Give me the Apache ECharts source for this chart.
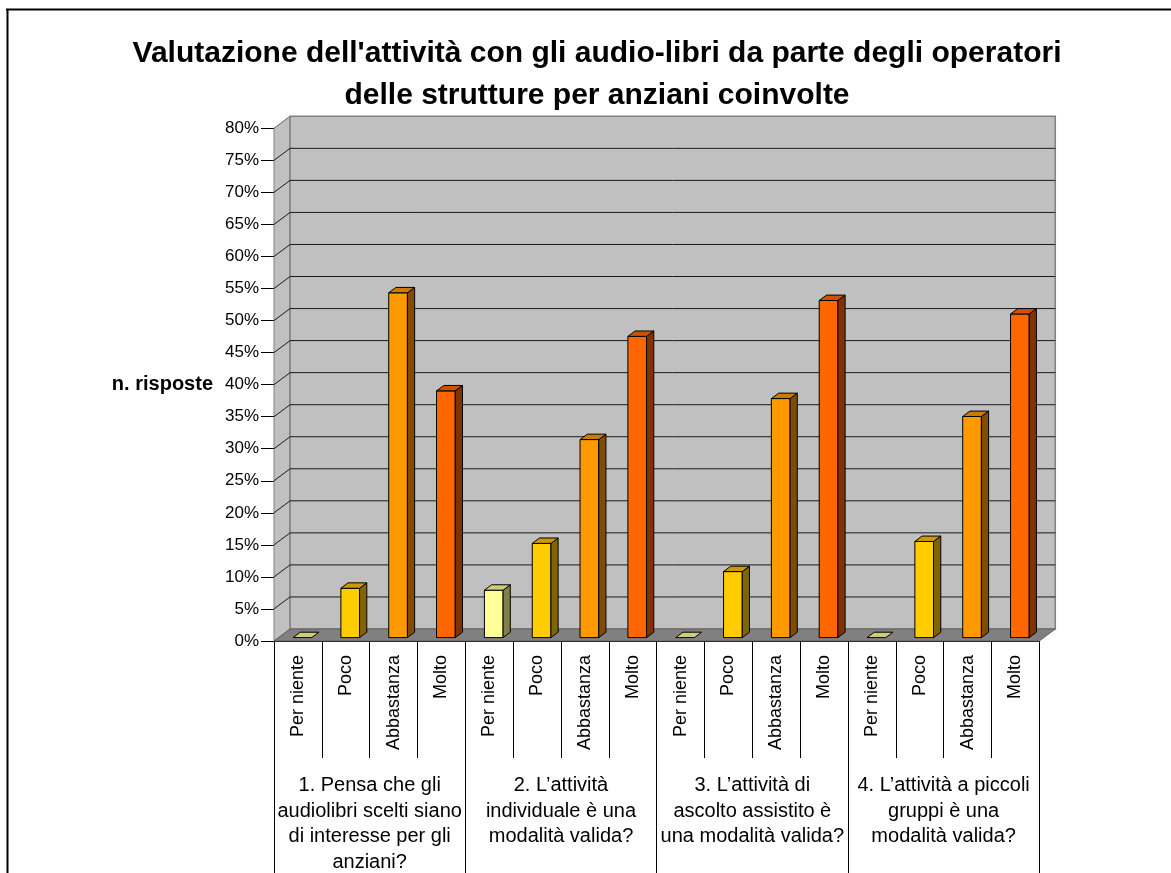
<!DOCTYPE html>
<html>
<head>
<meta charset="utf-8">
<script src="https://cdn.jsdelivr.net/npm/echarts@6/dist/echarts.min.js"></script>
<style>
html,body{margin:0;padding:0;background:#fff;}
#chart{width:1171px;height:873px;}
</style>
</head>
<body>
<div id="chart"></div>
<script>
// ---- data ----
const titleLines = ["Valutazione dell'attività con gli audio-libri da parte degli operatori", "delle strutture per anziani coinvolte"];
const yAxisName = "n. risposte";
const subcats = ["Per niente", "Poco", "Abbastanza", "Molto"];
const groups = [
  "1. Pensa che gli\naudiolibri scelti siano\ndi interesse per gli\nanziani?",
  "2. L\u2019attività\nindividuale è una\nmodalità valida?",
  "3. L\u2019attività di\nascolto assistito è\nuna modalità valida?",
  "4. L\u2019attività a piccoli\ngruppi è una\nmodalità valida?"
];
const perNiente  = [0, 7.4, 0, 0];
const poco       = [7.7, 14.7, 10.3, 15.0];
const abbastanza = [53.8, 30.9, 37.3, 34.5];
const molto      = [38.5, 47.0, 52.6, 50.5];
const yTicks = [0,5,10,15,20,25,30,35,40,45,50,55,60,65,70,75,80];

// ---- build ----
const seriesBySub = [perNiente, poco, abbastanza, molto];
const xCats = [];
groups.forEach(() => subcats.forEach(s => xCats.push(s)));
const barData = [];
groups.forEach((g, gi) => {
  subcats.forEach((s, si) => {
    barData.push([gi * subcats.length + si, seriesBySub[si][gi], si]);
  });
});

const FONT = "'Liberation Sans', Arial, sans-serif";
const DX = 16, DY = -12;          // depth of the 3D box
const FX = 4.5, FY = -3.4;        // front face offset of bars
const SX = 7.2, SY = -5.4;        // bar depth
const BW = 18.7;                  // bar width
const faceColors = ['#FFFF99', '#FFCC00', '#FF9900', '#FF6600'];
const topColors  = ['#CCCC7A', '#CC9900', '#CC7A00', '#CC5200'];
const sideColors = ['#80804C', '#806600', '#804C00', '#803300'];

function renderWalls(params, api) {
  const cs = params.coordSys;
  const x0 = cs.x, x1 = cs.x + cs.width, yT = cs.y, yB = cs.y + cs.height;
  const ch = [];
  ch.push({type:'polygon', shape:{points:[[x0,yB],[x0,yT],[x0+DX,yT+DY],[x0+DX,yB+DY]]},
           style:{fill:'#C0C0C0', stroke:'#808080', lineWidth:1}});
  ch.push({type:'rect', shape:{x:x0+DX, y:yT+DY, width:cs.width, height:cs.height},
           style:{fill:'#C0C0C0', stroke:'#808080', lineWidth:1.5}});
  ch.push({type:'polygon', shape:{points:[[x0,yB],[x0+DX,yB+DY],[x1+DX,yB+DY],[x1,yB]]},
           style:{fill:'#808080', stroke:'#606060', lineWidth:1}});
  yTicks.forEach(v => {
    const y = api.coord([0, v])[1];
    if (v > 0 && v < yTicks[yTicks.length-1]) {
      ch.push({type:'line', shape:{x1:x0+DX, y1:y+DY, x2:x1+DX, y2:y+DY}, style:{stroke:'#1a1a1a', lineWidth:1}});
    }
    if (v > 0) {
      ch.push({type:'line', shape:{x1:x0, y1:y, x2:x0+DX, y2:y+DY},
               style:{stroke: v === yTicks[yTicks.length-1] ? '#808080' : '#1a1a1a', lineWidth:1}});
    }
  });
  return {type:'group', children:ch};
}

function renderBar(params, api) {
  const idx = api.value(0), v = api.value(1), si = api.value(2);
  const p0 = api.coord([idx, 0]);
  const p1 = api.coord([idx, v]);
  const x0 = p0[0] + FX - BW / 2, x1 = x0 + BW;
  const yb = p0[1] + FY, yt = p1[1] + FY;
  const st = {stroke:'#000', lineWidth:1, lineJoin:'round'};
  const ch = [];
  if (v > 0) {
    ch.push({type:'polygon', shape:{points:[[x0,yt],[x1,yt],[x1,yb],[x0,yb]]},
             style:Object.assign({fill:faceColors[si]}, st)});
    ch.push({type:'polygon', shape:{points:[[x1,yb],[x1+SX,yb+SY],[x1+SX,yt+SY],[x1,yt]]},
             style:Object.assign({fill:sideColors[si]}, st)});
  }
  ch.push({type:'polygon', shape:{points:[[x0,yt],[x1,yt],[x1+SX,yt+SY],[x0+SX,yt+SY]]},
           style:Object.assign({fill:topColors[si]}, st)});
  return {type:'group', children:ch};
}

const chart = echarts.init(document.getElementById('chart'), null, {renderer:'canvas'});
chart.setOption({
  animation: false,
  backgroundColor: '#fff',
  title: {
    text: titleLines.join('\n'),
    left: 597, top: 33, textAlign: 'center', padding: 0,
    textStyle: {fontFamily: FONT, fontSize: 30, fontWeight: 'bold', lineHeight: 42, color: '#000'}
  },
  grid: {left: 274, right: 131.7, top: 128.3, bottom: 232, containLabel: false, outerBoundsMode: 'none'},
  xAxis: [
    {
      type: 'category', data: xCats, position: 'bottom', boundaryGap: true,
      axisLine: {show: true, onZero: false, lineStyle: {color: '#000', width: 1}},
      axisTick: {show: true, interval: 0, length: 117, lineStyle: {color: '#000', width: 1}},
      axisLabel: {interval: 0, rotate: 90, margin: 14, fontSize: 18, fontFamily: FONT, color: '#000', hideOverlap: false},
      splitLine: {show: false}
    },
    {
      type: 'category', data: groups, position: 'bottom', offset: 0, boundaryGap: true,
      axisLine: {show: false},
      axisTick: {show: true, interval: 0, length: 240, lineStyle: {color: '#000', width: 1}},
      axisLabel: {interval: 0, margin: 132, fontSize: 20, lineHeight: 25.5, fontFamily: FONT, color: '#000',
                  align: 'center', verticalAlign: 'top', hideOverlap: false},
      splitLine: {show: false}
    }
  ],
  yAxis: {
    type: 'value', min: yTicks[0], max: yTicks[yTicks.length-1], interval: 5,
    name: yAxisName, nameLocation: 'middle', nameRotate: 0, nameGap: 61,
    nameTextStyle: {fontFamily: FONT, fontSize: 20, fontWeight: 'bold', color: '#000', align: 'right', verticalAlign: 'middle',
                    padding: [4, 0, 0, 0]},
    axisLine: {show: true, lineStyle: {color: '#000', width: 1}},
    axisTick: {show: true, length: 13, lineStyle: {color: '#000', width: 1}},
    axisLabel: {margin: 15, fontSize: 17, fontFamily: FONT, color: '#000', formatter: v => v + '%'},
    splitLine: {show: false}
  },
  graphic: [
    {type:'line', shape:{x1:6, y1:9.5, x2:1171, y2:9.5}, style:{stroke:'#000', lineWidth:2}, z:100},
    {type:'line', shape:{x1:7.5, y1:9, x2:7.5, y2:873}, style:{stroke:'#000', lineWidth:2}, z:100}
  ],
  series: [
    {type:'custom', name:'walls', renderItem: renderWalls, data: [[0, 0]], clip: false, z: 1, silent: true,
     encode: {x: 0, y: 1}},
    {type:'custom', name:'bars', renderItem: renderBar, data: barData, clip: false, z: 3,
     encode: {x: 0, y: 1}}
  ]
});
</script>
</body>
</html>
